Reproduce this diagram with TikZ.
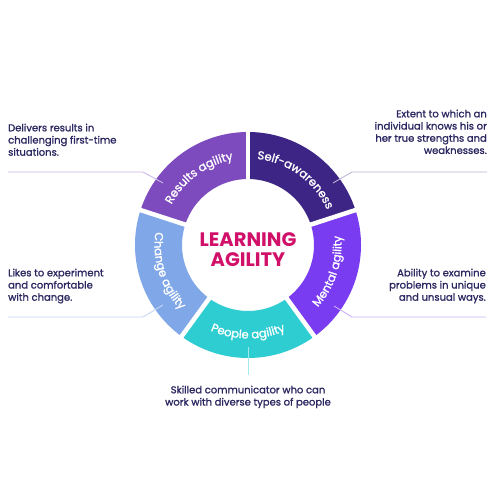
\documentclass[tikz,border=0pt]{standalone}
\usepackage{fontspec}
\setmainfont{Poppins}
\newfontfamily\medfont[FakeBold=1.2]{Poppins}
\usetikzlibrary{decorations.text,calc}
\definecolor{cres}{HTML}{7E4BBE}
\definecolor{cself}{HTML}{3D2585}
\definecolor{cment}{HTML}{7A3CF0}
\definecolor{cpeop}{HTML}{2ECDD2}
\definecolor{cchan}{HTML}{80A7E8}
\definecolor{cdesc}{HTML}{2B2760}
\definecolor{ctitle}{HTML}{D1106A}
\tikzset{
  desc/.style={inner sep=0pt, text=cdesc, font=\medfont\fontsize{10}{12.2}\selectfont},
  conn/.style={line width=0.9pt},
  seglabel/.style={decorate, decoration={text along path, text align=center, text color=white, text={|\medfont\fontsize{11.6}{13}\selectfont|#1}}}
}
\begin{document}
\begin{tikzpicture}[x=1pt,y=1pt]
\useasboundingbox (0,0) rectangle (500,500);
\fill[white] (0,0) rectangle (500,500);
\coordinate (C) at (248,255);
\begin{scope}[shift={(C)}]
  % segments
  \fill[cself] (18:113) arc[start angle=18, end angle=90, radius=113] -- (90:66) arc[start angle=90, end angle=18, radius=66] -- cycle;
  \fill[cres] (90:113) arc[start angle=90, end angle=162, radius=113] -- (162:66) arc[start angle=162, end angle=90, radius=66] -- cycle;
  \fill[cchan] (162:113) arc[start angle=162, end angle=234, radius=113] -- (234:66) arc[start angle=234, end angle=162, radius=66] -- cycle;
  \fill[cpeop] (234:113) arc[start angle=234, end angle=306, radius=113] -- (306:66) arc[start angle=306, end angle=234, radius=66] -- cycle;
  \fill[cment] (306:113) arc[start angle=306, end angle=378, radius=113] -- (378:66) arc[start angle=378, end angle=306, radius=66] -- cycle;
  \foreach \a in {18,90,162,234,306} \draw[white, line width=4.5pt] (\a:60) -- (\a:119);
  % labels
  \path[seglabel={Results agility}] (162:86.5) arc[start angle=162, end angle=90, radius=86.5];
  \path[seglabel={Self-awareness}] (90:86.5) arc[start angle=90, end angle=18, radius=86.5];
  \path[seglabel={Mental agility}] (-54:93.5) arc[start angle=-54, end angle=18, radius=93.5];
  \path[seglabel={People agility}] (-126:93.5) arc[start angle=-126, end angle=-54, radius=93.5];
  \path[seglabel={Change agility}] (162:93.5) arc[start angle=162, end angle=234, radius=93.5];
\end{scope}
\node[inner sep=0pt, align=center, text=ctitle, font=\fontsize{19.5}{20}\selectfont\bfseries] (title) at (248,250) {LEARNING\\AGILITY};
% descriptions
\node[desc, anchor=north west, align=left] (dres) at (8,376.5) {Delivers results in\\challenging first-time\\situations.};
\node[desc, anchor=north east, align=right] (dself) at (487,390.5) {Extent to which an\\individual knows his or\\her true strengths and\\weaknesses.};
\node[desc, anchor=north west, align=left] (dchan) at (8,231.5) {Likes to experiment\\and comfortable\\with change.};
\node[desc, anchor=north east, align=right] (dment) at (486,231.5) {Ability to examine\\problems in unique\\and unsual ways.};
\node[desc, anchor=north, align=center] (dpeop) at (248,114.5) {Skilled communicator who can\\work with diverse types of people};
% connectors
\coordinate (tl0) at (8,328); \coordinate (tl1) at (143,328); \coordinate (tl2) at (163,317);
\coordinate (tr0) at (487,328); \coordinate (tr1) at (352,328); \coordinate (tr2) at (333,317);
\coordinate (bl0) at (8,183); \coordinate (bl1) at (143,183); \coordinate (bl2) at (163,195);
\coordinate (br0) at (486,183); \coordinate (br1) at (352,183); \coordinate (br2) at (334,194);
\coordinate (b0) at (248,153); \coordinate (b1) at (248,125);
\draw[conn, cres!40] (tl0) -- (tl1) -- (tl2);
\draw[conn, cself!35] (tr0) -- (tr1) -- (tr2);
\draw[conn, cchan!45] (bl0) -- (bl1) -- (bl2);
\draw[conn, cment!40] (br0) -- (br1) -- (br2);
\draw[conn, cpeop!45] (b0) -- (b1);
\end{tikzpicture}
\end{document}
